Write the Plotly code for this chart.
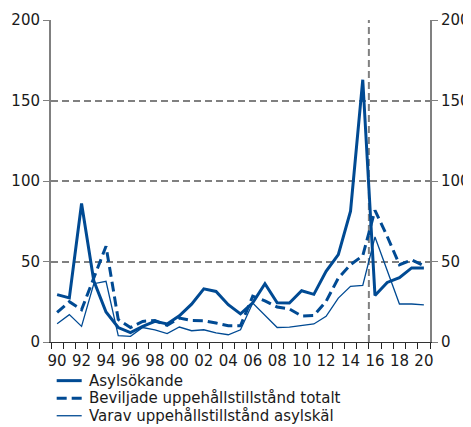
import plotly.graph_objects as go

years = list(range(1990, 2021))
tick_years = list(range(1990, 2021, 2))
tick_labels = [f"{y % 100:02d}" for y in tick_years]

asylsokande = [29.4, 27.4, 86.0, 38.0, 18.6, 9.0, 5.8, 9.7, 12.8, 11.2, 16.3, 23.5,
               33.0, 31.4, 23.2, 17.5, 24.3, 36.2, 24.4, 24.2, 31.8, 29.6, 43.9, 54.3,
               81.3, 162.9, 28.9, 37.0, 40.0, 46.0, 46.0]
beviljade_totalt = [18.4, 25.0, 20.0, 40.0, 59.5, 14.0, 9.0, 12.8, 13.4, 10.3, 14.9, 13.4,
                    13.2, 11.8, 10.1, 10.1, 28.5, 25.5, 21.7, 20.5, 16.2, 16.4, 25.2, 39.7,
                    48.0, 53.6, 81.8, 65.6, 48.0, 51.0, 47.4]
varav_asyl = [11.4, 17.0, 9.7, 36.2, 37.7, 3.9, 3.5, 9.0, 7.6, 5.2, 9.3, 7.0,
              7.6, 5.6, 4.5, 7.6, 24.2, 16.3, 9.0, 9.3, 10.3, 11.2, 16.0, 27.3,
              34.6, 35.2, 65.2, 44.0, 23.6, 23.6, 23.0]

series_names = ["Asylsökande", "Beviljade uppehållstillstånd totalt",
                "Varav uppehållstillstånd asylskäl"]

blue = "#004a93"
grey = "#808080"
font = dict(family="DejaVu Sans, Verdana, sans-serif", size=15, color="#1a1a1a")
styles = [dict(color=blue, width=3), dict(color=blue, width=3, dash="10px,5px"),
          dict(color=blue, width=1.3)]

fig = go.Figure()
for name, vals, st in zip(series_names, [asylsokande, beviljade_totalt, varav_asyl], styles):
    fig.add_trace(go.Scatter(x=years, y=vals, mode="lines", name=name, line=st,
                             showlegend=False))
fig.add_trace(go.Scatter(x=[years[0]], y=[0], yaxis="y2", mode="lines",
                         showlegend=False, hoverinfo="skip",
                         line=dict(color="rgba(0,0,0,0)")))

fig.add_shape(type="line", xref="x", yref="paper", x0=2015.5, x1=2015.5, y0=0, y1=1,
              line=dict(color=grey, width=2, dash="7px,4px"), layer="below")

# manual legend (paper coordinates)
leg_y = [-0.120, -0.175, -0.229]
for name, st, yy in zip(series_names, styles, leg_y):
    fig.add_shape(type="line", xref="paper", yref="paper", x0=0.015, x1=0.081,
                  y0=yy, y1=yy, line=st)
    fig.add_annotation(xref="paper", yref="paper", x=0.096, y=yy, text=name,
                       showarrow=False, xanchor="left", yanchor="middle", font=font)

# the page body adds an 8px margin, so the figure is sized to fill the rest
fig.update_layout(
    width=463, height=419,
    margin=dict(l=43, r=41, t=12, b=85, autoexpand=False),
    paper_bgcolor="white", plot_bgcolor="white",
    font=font,
    showlegend=False,
    xaxis=dict(range=[1989.5, 2020.5], tickmode="array", tickvals=tick_years,
               ticktext=tick_labels, ticks="outside", ticklen=5,
               tickcolor="rgba(0,0,0,0)", showgrid=False, zeroline=False,
               showline=True, linecolor="#333333", linewidth=1,
               minor=dict(tickmode="linear", tick0=1989.5, dtick=1, ticks="outside",
                          ticklen=6, tickcolor="#222222", tickwidth=1, showgrid=False)),
    yaxis=dict(range=[0, 200], tickvals=[0, 50, 100, 150, 200], ticks="outside",
               ticklen=6, tickcolor=grey, showline=True, linecolor=grey, linewidth=2,
               showgrid=True, gridcolor=grey, gridwidth=2, griddash="7px,4px",
               zeroline=False),
    yaxis2=dict(range=[0, 200], tickvals=[0, 50, 100, 150, 200], overlaying="y",
                side="right", ticks="outside", ticklen=6, tickcolor=grey,
                showline=True, linecolor=grey, linewidth=2, showgrid=False,
                zeroline=False),
)

fig.write_html("out.html")
